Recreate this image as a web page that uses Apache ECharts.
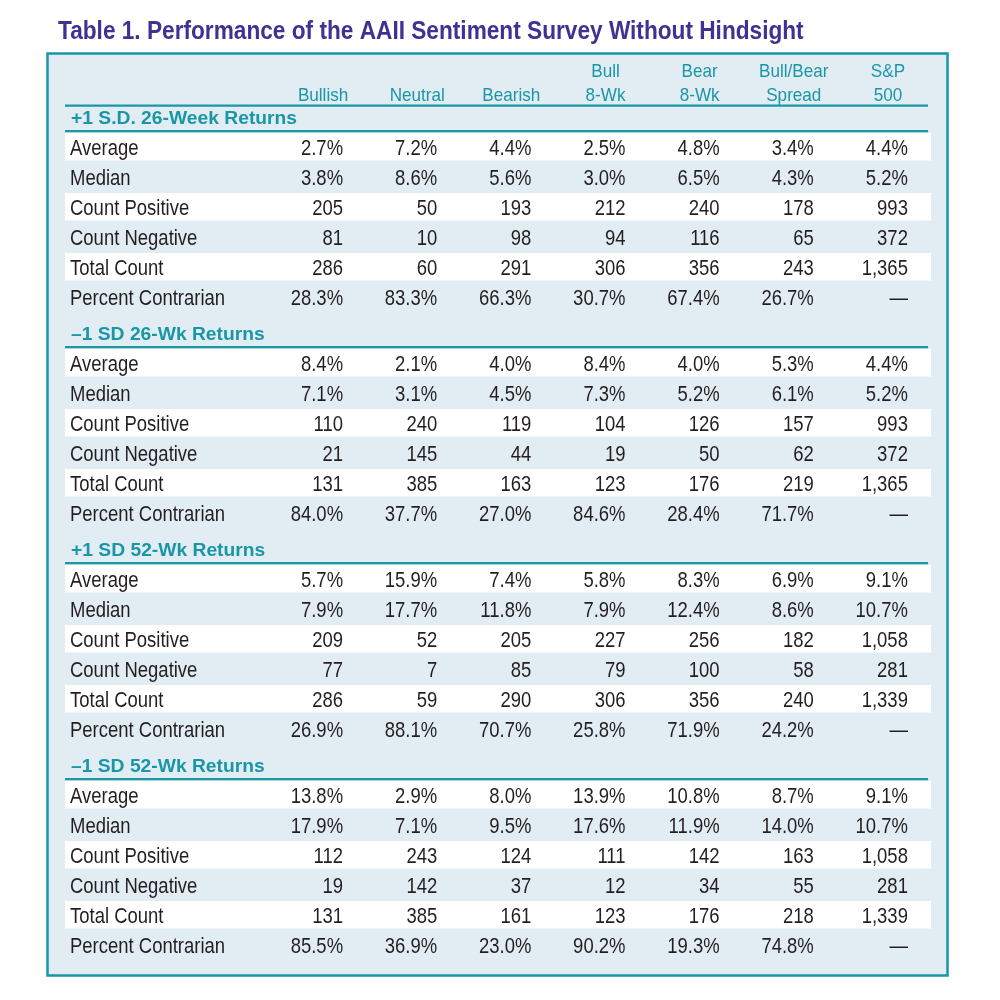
<!DOCTYPE html>
<html>
<head>
<meta charset="utf-8">
<style>
  html, body { margin: 0; padding: 0; background: #fff; }
  #chart { width: 1000px; height: 1000px; }
</style>
<script src="https://cdn.jsdelivr.net/npm/echarts@6/dist/echarts.min.js"></script>
</head>
<body>
<div id="chart"></div>
<script>
const titleText = 'Table 1. Performance of the AAII Sentiment Survey Without Hindsight';
const columns = ['Bullish', 'Neutral', 'Bearish', 'Bull 8-Wk', 'Bear 8-Wk', 'Bull/Bear Spread', 'S&P 500'];
const headerTop = ['', '', '', 'Bull', 'Bear', 'Bull/Bear', 'S&P'];
const headerBottom = ['Bullish', 'Neutral', 'Bearish', '8-Wk', '8-Wk', 'Spread', '500'];
const sectionTitles = ['+1 S.D. 26-Week Returns', '–1 SD 26-Wk Returns', '+1 SD 52-Wk Returns', '–1 SD 52-Wk Returns'];
const rowLabels = ['Average', 'Median', 'Count Positive', 'Count Negative', 'Total Count', 'Percent Contrarian'];
const percentRow = [true, true, false, false, false, true];

// null = no value (dash)
const up26 = [
  [2.7, 7.2, 4.4, 2.5, 4.8, 3.4, 4.4],
  [3.8, 8.6, 5.6, 3.0, 6.5, 4.3, 5.2],
  [205, 50, 193, 212, 240, 178, 993],
  [81, 10, 98, 94, 116, 65, 372],
  [286, 60, 291, 306, 356, 243, 1365],
  [28.3, 83.3, 66.3, 30.7, 67.4, 26.7, null]
];
const down26 = [
  [8.4, 2.1, 4.0, 8.4, 4.0, 5.3, 4.4],
  [7.1, 3.1, 4.5, 7.3, 5.2, 6.1, 5.2],
  [110, 240, 119, 104, 126, 157, 993],
  [21, 145, 44, 19, 50, 62, 372],
  [131, 385, 163, 123, 176, 219, 1365],
  [84.0, 37.7, 27.0, 84.6, 28.4, 71.7, null]
];
const up52 = [
  [5.7, 15.9, 7.4, 5.8, 8.3, 6.9, 9.1],
  [7.9, 17.7, 11.8, 7.9, 12.4, 8.6, 10.7],
  [209, 52, 205, 227, 256, 182, 1058],
  [77, 7, 85, 79, 100, 58, 281],
  [286, 59, 290, 306, 356, 240, 1339],
  [26.9, 88.1, 70.7, 25.8, 71.9, 24.2, null]
];
const down52 = [
  [13.8, 2.9, 8.0, 13.9, 10.8, 8.7, 9.1],
  [17.9, 7.1, 9.5, 17.6, 11.9, 14.0, 10.7],
  [112, 243, 124, 111, 142, 163, 1058],
  [19, 142, 37, 12, 34, 55, 281],
  [131, 385, 161, 123, 176, 218, 1339],
  [85.5, 36.9, 23.0, 90.2, 19.3, 74.8, null]
];
const sections = [up26, down26, up52, down52];

const TEAL = '#1a97a7';
const INK = '#231f20';
const FONT = '"Liberation Sans", Arial, sans-serif';
const LABEL_X = 70;      // left edge of row labels
const BAND_X0 = 65, BAND_X1 = 931;
const RULE_X0 = 65, RULE_X1 = 928;

function fmt(v, pct) {
  if (v == null) return '—';
  return pct ? v.toFixed(1) + '%' : v.toLocaleString('en-US');
}

// row positions, in row units (1 unit = one table row)
const headTopY = 0, headBottomY = 0.78;
const sectionY = [];
let yy = 1.55;
sections.forEach(() => { sectionY.push(yy); yy += 7.2; });

const cellData = [], cellText = [];
const labelData = [], labelText = [];
const bandData = [];
const ruleData = [[0, headBottomY + 0.34]];
const headData = [], headText = [];

columns.forEach((c, i) => {
  if (headerTop[i]) { headData.push([i, headTopY]); headText.push(headerTop[i]); }
  headData.push([i, headBottomY]); headText.push(headerBottom[i]);
});

const secData = [], secText = [];
sections.forEach((rows, s) => {
  const y0 = sectionY[s];
  secData.push([0, y0 + 0.03]); secText.push(sectionTitles[s]);
  ruleData.push([0, y0 + 0.42]);
  rows.forEach((vals, r) => {
    const y = y0 + 1 + r;
    labelData.push([0, y]); labelText.push(rowLabels[r]);
    if (r % 2 === 0) bandData.push([0, y]);
    vals.forEach((v, c) => {
      cellData.push([c, y]);
      cellText.push(fmt(v, percentRow[r]));
    });
  });
});

function textEl(x, y, text, opt) {
  return {
    type: 'text',
    x: x, y: y,
    scaleX: opt.scaleX || 1,
    style: {
      text: text,
      fill: opt.fill || INK,
      fontSize: opt.size || 22,
      fontWeight: opt.weight || 'normal',
      fontFamily: FONT,
      align: opt.align || 'left',
      verticalAlign: 'middle'
    }
  };
}

const chart = echarts.init(document.getElementById('chart'));

chart.setOption({
  animation: false,
  grid: { left: 296, width: 659, top: 72, height: 900 },
  xAxis: { type: 'category', data: columns, show: false },
  yAxis: { type: 'value', min: 0, max: 30, inverse: true, show: false },
  graphic: [
    {
      type: 'rect', z: 0,
      shape: { x: 47.5, y: 53.5, width: 900, height: 922 },
      style: { fill: '#e1ecf3', stroke: TEAL, lineWidth: 2.5 }
    },
    {
      type: 'text', x: 58, y: 32.5, scaleX: 0.906, z: 1,
      style: {
        text: titleText, fill: '#3e3292', fontSize: 25, fontWeight: 'bold',
        fontFamily: FONT, verticalAlign: 'middle'
      }
    }
  ],
  series: [
    {
      type: 'custom', name: 'bands', z: 3, clip: false, silent: true,
      data: bandData,
      renderItem: (params, api) => {
        const cy = api.coord([0, api.value(1)])[1];
        const unit = api.size([0, 1])[1];
        return {
          type: 'rect',
          shape: { x: BAND_X0, y: cy - 0.52 * unit, width: BAND_X1 - BAND_X0, height: 0.92 * unit },
          style: { fill: '#ffffff' }
        };
      }
    },
    {
      type: 'custom', name: 'rules', z: 4, clip: false, silent: true,
      data: ruleData,
      renderItem: (params, api) => {
        const cy = api.coord([0, api.value(1)])[1];
        return {
          type: 'line',
          shape: { x1: RULE_X0, y1: cy, x2: RULE_X1, y2: cy },
          style: { stroke: TEAL, lineWidth: 2.2 }
        };
      }
    },
    {
      type: 'custom', name: 'headers', z: 5, clip: false, silent: true,
      data: headData,
      renderItem: (params, api) => {
        const p = api.coord([api.value(0), api.value(1)]);
        return textEl(p[0] - 20, p[1], headText[params.dataIndex],
          { fill: TEAL, size: 19, scaleX: 0.9, align: 'center' });
      }
    },
    {
      type: 'custom', name: 'sections', z: 5, clip: false, silent: true,
      data: secData,
      renderItem: (params, api) => {
        const p = api.coord([0, api.value(1)]);
        return textEl(LABEL_X + 1, p[1], secText[params.dataIndex],
          { fill: TEAL, size: 18, weight: 'bold', scaleX: 1.07 });
      }
    },
    {
      type: 'custom', name: 'labels', z: 5, clip: false, silent: true,
      data: labelData,
      renderItem: (params, api) => {
        const p = api.coord([0, api.value(1)]);
        return textEl(LABEL_X, p[1], labelText[params.dataIndex], { scaleX: 0.84 });
      }
    },
    {
      type: 'custom', name: 'cells', z: 5, clip: false, silent: true,
      data: cellData,
      renderItem: (params, api) => {
        const p = api.coord([api.value(0), api.value(1)]);
        return textEl(p[0], p[1], cellText[params.dataIndex], { scaleX: 0.84, align: 'right' });
      }
    }
  ]
});
</script>
</body>
</html>
